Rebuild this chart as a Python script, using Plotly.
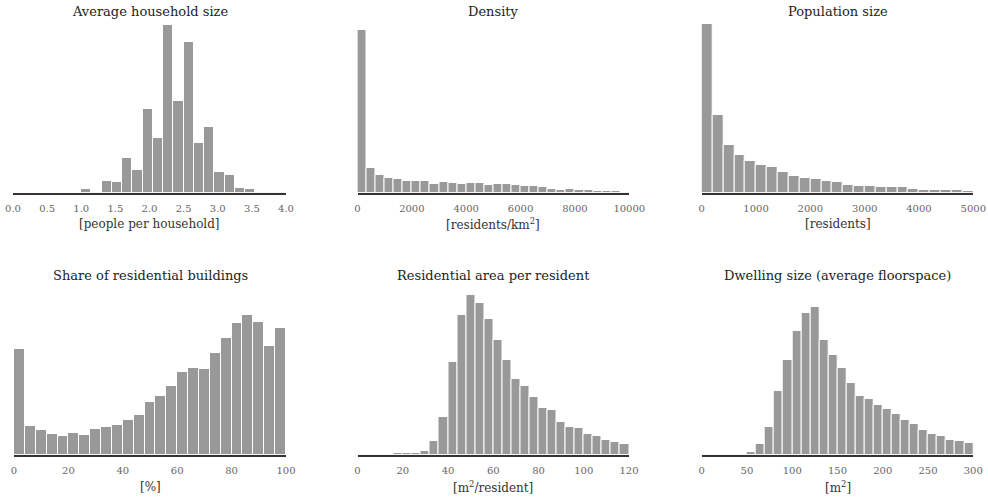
import plotly.graph_objects as go

# ---------------- data (bin start, bin width, counts) -------------
hh_start, hh_width = 1.0, 0.15
hh_counts = [11, 2, 35, 33, 103, 68, 252, 163, 503, 275, 451, 149, 197, 61, 52, 13, 11, 2, 2, 2]

dens_start, dens_width = 0, 10000 / 30
dens_counts = [488, 73, 53, 43, 41, 34, 35, 35, 27, 32, 30, 26, 30, 29, 24,
               27, 27, 22, 20, 20, 17, 12, 9, 12, 9, 8, 6, 5, 4, 2]

pop_start, pop_width = 0, 200
pop_counts = [505, 232, 144, 113, 94, 82, 77, 61, 51, 45, 41, 34, 33, 23, 20,
              20, 17, 17, 17, 12, 8, 8, 7, 7, 5]

share_start, share_width = 0, 4
share_counts = [316, 87, 75, 63, 56, 65, 59, 76, 83, 89, 104, 119, 159, 176, 205,
                249, 261, 258, 304, 351, 395, 419, 399, 327, 379]

area_start, area_width = 0, 4
area_counts = [2, 1, 2, 1, 4, 4, 4, 11, 41, 114, 278, 418, 480, 456, 406,
               345, 284, 228, 206, 173, 140, 133, 98, 83, 79, 61, 55, 44, 38, 33]

dwell_start, dwell_width = 0, 10
dwell_counts = [1, 1, 1, 1, 2, 8, 32, 83, 190, 283, 371, 425, 444, 344, 299,
                259, 216, 176, 168, 148, 138, 122, 104, 92, 75, 63, 56, 44, 41, 35]

titles = ["Average household size", "Density", "Population size",
          "Share of residential buildings", "Residential area per resident",
          "Dwelling size (average floorspace)"]
xlabels = ["[people per household]", "[residents/km<sup>2</sup>]", "[residents]",
           "[%]", "[m<sup>2</sup>/resident]", "[m<sup>2</sup>]"]
xranges = [(0, 4), (0, 10000), (0, 5000), (0, 100), (0, 120), (0, 300)]
tickvals = [[0, 0.5, 1, 1.5, 2, 2.5, 3, 3.5, 4],
            [0, 2000, 4000, 6000, 8000, 10000],
            [0, 1000, 2000, 3000, 4000, 5000],
            [0, 20, 40, 60, 80, 100],
            [0, 20, 40, 60, 80, 100, 120],
            [0, 50, 100, 150, 200, 250, 300]]
ticktext = [["0.0", "0.5", "1.0", "1.5", "2.0", "2.5", "3.0", "3.5", "4.0"],
            ["0", "2000", "4000", "6000", "8000", "10000"],
            ["0", "1000", "2000", "3000", "4000", "5000"],
            ["0", "20", "40", "60", "80", "100"],
            ["0", "20", "40", "60", "80", "100", "120"],
            ["0", "50", "100", "150", "200", "250", "300"]]

series = [(hh_start, hh_width, hh_counts), (dens_start, dens_width, dens_counts),
          (pop_start, pop_width, pop_counts), (share_start, share_width, share_counts),
          (area_start, area_width, area_counts), (dwell_start, dwell_width, dwell_counts)]

# ---------------- layout geometry ----------------
W, H = 988, 498
xpix = [(13, 286), (357.5, 629.3), (701.7, 973.3),
        (14, 286), (357.5, 629.0), (701.7, 973.3)]
row_pix = [(20, 192.7), (290, 454.7)]   # top, bottom of plot areas
row_range = [518, 494]
title_y = [12, 275]
label_y = [224, 487]

FONT = "DejaVu Serif"
fig = go.Figure()
annotations = []
for i, (start, width, counts) in enumerate(series):
    r = i // 3
    n = i + 1
    xa = "x" if n == 1 else f"x{n}"
    ya = "y" if n == 1 else f"y{n}"
    centers = [start + width * (k + 0.5) for k in range(len(counts))]
    fig.add_trace(go.Bar(x=centers, y=counts, width=[width] * len(counts),
                         marker=dict(color="#999999", line=dict(color="white", width=1)),
                         xaxis=xa, yaxis=ya, showlegend=False, hoverinfo="skip"))
    x0, x1 = xpix[i]
    top, bot = row_pix[r]
    xd = [x0 / W, x1 / W]
    yd = [1 - bot / H, 1 - top / H]
    xkey = "xaxis" if n == 1 else f"xaxis{n}"
    ykey = "yaxis" if n == 1 else f"yaxis{n}"
    xax = dict(domain=xd, range=list(xranges[i]), anchor=ya, showgrid=False,
               zeroline=False, showline=True, linecolor="#333333", linewidth=1.5,
               ticks="", tickmode="array", tickvals=tickvals[i], ticktext=ticktext[i],
               automargin=False, ticklabelstandoff=6,
               tickfont=dict(family=FONT, size=10, color="#666666"), fixedrange=True)
    fig.update_layout(**{xkey: xax,
                         ykey: dict(domain=yd, range=[0, row_range[r]], anchor=xa,
                                    visible=False, fixedrange=True, automargin=False)})
    cx = (x0 + x1) / 2 / W
    annotations.append(dict(x=cx, y=1 - title_y[r] / H, xref="paper", yref="paper",
                            text=titles[i], showarrow=False, xanchor="center",
                            yanchor="middle",
                            font=dict(family=FONT, size=13, color="#222222")))
    annotations.append(dict(x=cx, y=1 - label_y[r] / H, xref="paper", yref="paper",
                            text=xlabels[i], showarrow=False, xanchor="center",
                            yanchor="middle",
                            font=dict(family=FONT, size=12, color="#333333")))

fig.update_layout(width=W, height=H,
                  margin=dict(l=0, r=0, t=0, b=0, pad=0, autoexpand=False),
                  autosize=False, plot_bgcolor="white", paper_bgcolor="white",
                  bargap=0, annotations=annotations)
fig.write_html("out.html", config={"responsive": False, "displayModeBar": False},
               post_script="document.body.style.margin='0px';"
                           "document.body.style.overflow='hidden';")
